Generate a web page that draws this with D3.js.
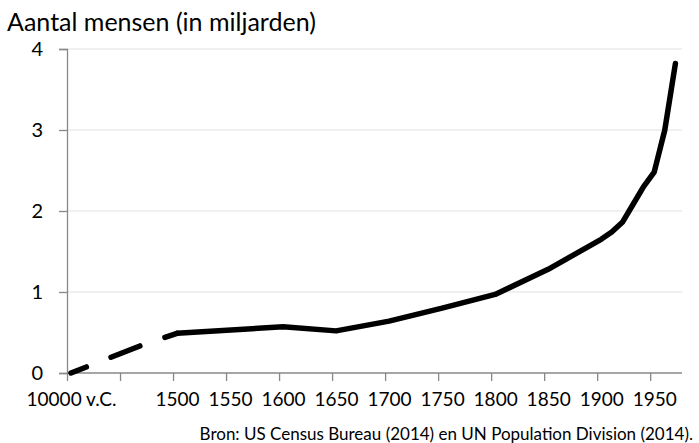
<!DOCTYPE html>
<html>
<head>
<meta charset="utf-8">
<script src="https://cdn.jsdelivr.net/npm/d3@7"></script>
<style>
  body { margin: 0; background: #fff; }
  text { font-family: Lato, "Open Sans", sans-serif; fill: #000; }
</style>
</head>
<body>
<svg width="699" height="443"></svg>
<script>
// x positions on the axis: 1400 stands for the "10000 v.C." slot
const tickYears = [1400, 1450, 1500, 1550, 1600, 1650, 1700, 1750, 1800, 1850, 1900, 1950];
const tickLabels = ["10000 v.C.", "", "1500", "1550", "1600", "1650", "1700", "1750", "1800", "1850", "1900", "1950"];
const yTicks = [0, 1, 2, 3, 4];

// dashed (estimated) part
const dashYears = [1400, 1470, 1500];
const dashValues = [0.0, 0.36, 0.49];

// solid part
const years = [1500, 1600, 1650, 1700, 1750, 1800, 1850, 1900, 1910, 1920, 1930, 1940, 1950, 1960, 1970];
const values = [0.49, 0.57, 0.52, 0.64, 0.80, 0.97, 1.28, 1.65, 1.74, 1.86, 2.08, 2.30, 2.48, 3.0, 3.82];

const svg = d3.select("svg");
const x = d3.scaleLinear().domain([1400, 1980]).range([71, 686]);
const y = d3.scaleLinear().domain([0, 4]).range([373, 49]);
const tickShift = -4; // tick marks sit slightly left of the points/labels

// gridlines
svg.append("g")
  .selectAll("line")
  .data(yTicks.filter((d) => d > 0))
  .enter()
  .append("line")
  .attr("x1", x(1400) + tickShift)
  .attr("x2", x(1980) + tickShift)
  .attr("y1", (d) => y(d))
  .attr("y2", (d) => y(d))
  .attr("stroke", "#ebebeb")
  .attr("stroke-width", 1.3);

// y axis
const yAxis = svg.append("g")
  .attr("transform", `translate(${x(1400) + tickShift},0)`)
  .call(d3.axisLeft(y).tickValues(yTicks).tickSize(8).tickPadding(16).tickFormat(d3.format("d")));
yAxis.select(".domain").attr("stroke", "#888").attr("stroke-width", 1.3);
yAxis.selectAll(".tick line").attr("stroke", "#888").attr("stroke-width", 1.3);
yAxis.selectAll(".tick text").attr("font-size", 20).attr("fill", "#000");

// x axis
const xAxis = svg.append("g")
  .attr("transform", `translate(0,${y(0)})`)
  .call(d3.axisBottom(x).tickValues(tickYears).tickSize(8).tickPadding(12)
    .tickFormat((d, i) => tickLabels[i]));
xAxis.select(".domain")
  .attr("d", `M${x(1400) + tickShift},0H${x(1980) + tickShift}`)
  .attr("stroke", "#888").attr("stroke-width", 1.3);
xAxis.selectAll(".tick line").attr("stroke", "#888").attr("stroke-width", 1.3)
  .attr("transform", `translate(${tickShift},0)`);
xAxis.selectAll(".tick text").attr("font-size", 19).attr("fill", "#000");

const line = d3.line().x((d) => x(d[0])).y((d) => y(d[1]));

svg.append("path")
  .attr("d", line(d3.zip(dashYears, dashValues)))
  .attr("fill", "none")
  .attr("stroke", "#000")
  .attr("stroke-width", 5.5)
  .attr("stroke-linecap", "round")
  .attr("stroke-dasharray", "31,26.5")
  .attr("stroke-dashoffset", 14.5);

svg.append("path")
  .attr("d", line(d3.zip(years, values)))
  .attr("fill", "none")
  .attr("stroke", "#000")
  .attr("stroke-width", 5.5)
  .attr("stroke-linecap", "round")
  .attr("stroke-linejoin", "round");

// title and source
svg.append("text")
  .attr("x", 7)
  .attr("y", 31)
  .attr("font-size", 25)
  .text("Aantal mensen (in miljarden)");

svg.append("text")
  .attr("x", 693)
  .attr("y", 440)
  .attr("text-anchor", "end")
  .attr("font-size", 17)
  .text("Bron: US Census Bureau (2014) en UN Population Division (2014).");
</script>
</body>
</html>
